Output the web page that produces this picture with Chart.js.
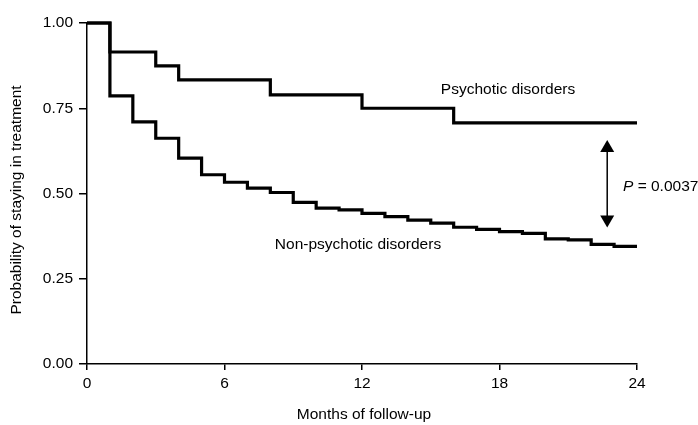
<!DOCTYPE html>
<html lang="en">
<head>
  <meta charset="UTF-8">
  <title>Probability of staying in treatment</title>
  <script src="https://cdn.jsdelivr.net/npm/chart.js"></script>
  <style>
    html, body { margin: 0; padding: 0; background: #fff; }
    #wrap { width: 698px; height: 425px; }
  </style>
</head>
<body>
  <div id="wrap"><canvas id="kmChart"></canvas></div>

  <script>
    // Kaplan-Meier curves (month, survival)
    const psychMonths = [0, 1, 3, 4, 8, 12, 16, 24];
    const psychValues = [1.00, 0.915, 0.874, 0.833, 0.789, 0.750, 0.707, 0.707];

    const nonPsychMonths = [0, 1, 2, 3, 4, 5, 6, 7, 8, 9, 10, 11, 12, 13, 14, 15, 16, 17, 18, 19, 20, 21, 22, 23, 24];
    const nonPsychValues = [1.00, 0.786, 0.710, 0.662, 0.604, 0.555, 0.533, 0.516, 0.503, 0.474, 0.457, 0.452, 0.442, 0.432, 0.422, 0.413, 0.401, 0.395, 0.388, 0.383, 0.367, 0.364, 0.351, 0.345, 0.345];

    const xTicks = [0, 6, 12, 18, 24];
    const yTicks = [0, 0.25, 0.5, 0.75, 1.0];

    // arrow between the curves, in data units
    const arrowMonth = 22.7;
    const arrowFrom = 0.657;
    const arrowTo = 0.400;

    const FONT = '"Liberation Sans", Arial, Helvetica, sans-serif';

    function toPoints(xs, ys) {
      return xs.map((x, i) => ({ x: x, y: ys[i] }));
    }

    const notes = {
      id: 'notes',
      afterDraw(chart) {
        const ctx = chart.ctx;
        const xs = chart.scales.x, ys = chart.scales.y;
        ctx.save();
        ctx.fillStyle = '#000';
        ctx.strokeStyle = '#000';
        ctx.font = '15.5px ' + FONT;
        ctx.textBaseline = 'middle';
        ctx.textAlign = 'center';
        ctx.fillText('Psychotic disorders', 508, 90);
        ctx.fillText('Non-psychotic disorders', 358, 245);
        ctx.fillText('Months of follow-up', 364, 415);

        // y title
        ctx.save();
        ctx.translate(17, 200);
        ctx.rotate(-Math.PI / 2);
        ctx.fillText('Probability of staying in treatment', 0, 0);
        ctx.restore();

        // P value
        ctx.textAlign = 'left';
        ctx.font = 'italic 15.5px ' + FONT;
        ctx.fillText('P', 623, 187);
        const pw = ctx.measureText('P').width;
        ctx.font = '15.5px ' + FONT;
        ctx.fillText(' = 0.0037', 623 + pw, 187);

        // double arrow
        const ax = xs.getPixelForValue(arrowMonth);
        const y1 = ys.getPixelForValue(arrowFrom);
        const y2 = ys.getPixelForValue(arrowTo);
        ctx.lineWidth = 1.5;
        ctx.beginPath();
        ctx.moveTo(ax, y1 + 8);
        ctx.lineTo(ax, y2 - 8);
        ctx.stroke();
        ctx.beginPath();
        ctx.moveTo(ax, y1);
        ctx.lineTo(ax - 7, y1 + 12);
        ctx.lineTo(ax + 7, y1 + 12);
        ctx.closePath();
        ctx.fill();
        ctx.beginPath();
        ctx.moveTo(ax, y2);
        ctx.lineTo(ax - 7, y2 - 12);
        ctx.lineTo(ax + 7, y2 - 12);
        ctx.closePath();
        ctx.fill();
        ctx.restore();
      }
    };

    new Chart(document.getElementById('kmChart'), {
      type: 'line',
      data: {
        datasets: [{
          label: 'Psychotic disorders',
          data: toPoints(psychMonths, psychValues),
          borderColor: '#000',
          borderWidth: 3.2,
          stepped: 'before',
          pointRadius: 0,
          fill: false,
          clip: false
        }, {
          label: 'Non-psychotic disorders',
          data: toPoints(nonPsychMonths, nonPsychValues),
          borderColor: '#000',
          borderWidth: 3.2,
          stepped: 'before',
          pointRadius: 0,
          fill: false,
          clip: false
        }]
      },
      options: {
        responsive: true,
        maintainAspectRatio: false,
        animation: false,
        layout: { padding: { top: 23, right: 61, left: 0, bottom: 0 } },
        plugins: {
          legend: { display: false },
          tooltip: { enabled: false }
        },
        scales: {
          x: {
            type: 'linear',
            min: 0,
            max: 24,
            afterBuildTicks(scale) { scale.ticks = xTicks.map(v => ({ value: v })); },
            afterFit(scale) { scale.height = 61; },
            grid: { drawOnChartArea: false, color: '#000', tickLength: 6, lineWidth: 1.5 },
            border: { color: '#000', width: 1.5 },
            ticks: { color: '#000', padding: 4, font: { family: FONT, size: 15.5 }, maxRotation: 0 }
          },
          y: {
            min: 0,
            max: 1,
            afterBuildTicks(scale) { scale.ticks = yTicks.map(v => ({ value: v })); },
            afterFit(scale) { scale.width = 87; },
            grid: { drawOnChartArea: false, color: '#000', tickLength: 8, lineWidth: 1.5 },
            border: { color: '#000', width: 1.5 },
            ticks: {
              color: '#000',
              padding: 6,
              font: { family: FONT, size: 15.5 },
              callback: v => v.toFixed(2)
            }
          }
        }
      },
      plugins: [notes]
    });
  </script>
</body>
</html>
